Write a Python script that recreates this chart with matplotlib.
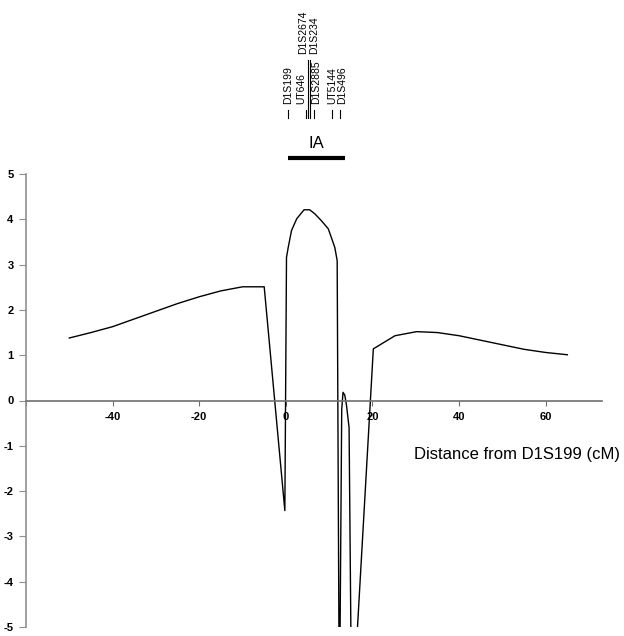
import matplotlib
matplotlib.use("Agg")
import matplotlib.pyplot as plt
import matplotlib.transforms as mtransforms

plt.rcParams['font.family'] = ['Liberation Sans', 'DejaVu Sans']
plt.rcParams['axes.unicode_minus'] = False

# LOD score curve: distance (cM) from D1S199 and score
distance = [-50, -45, -40, -35, -30, -25, -20, -15, -10, -5,
            -0.23, 0.15, 0.55, 1.3, 2.5, 4.2, 5.5, 6.7, 8.2, 9.8, 10.5, 11.3, 11.85,
            12.3, 12.45, 12.9, 13.2, 13.6, 14.0, 14.6, 15.1,
            15.95, 20.2, 25.2, 30.2, 35, 40, 45, 50, 55, 60, 65]
lod = [1.38, 1.50, 1.63, 1.80, 1.97, 2.14, 2.29, 2.42, 2.51, 2.51,
       -2.43, 3.16, 3.38, 3.75, 4.01, 4.21, 4.21, 4.12, 3.97, 3.79, 3.60, 3.38, 3.09,
       -6.0, -6.0, -0.2, 0.18, 0.12, -0.1, -0.6, -6.0,
       -6.0, 1.14, 1.43, 1.52, 1.50, 1.43, 1.33, 1.23, 1.13, 1.06, 1.01]

# Markers (cM positions) shown above the plot
short_markers = ["D1S199", "UT646", "D1S2885", "UT5144", "D1S496"]
short_pos = [0.54, 4.55, 6.54, 10.7, 12.6]
short_label_pos = [0.54, 3.6, 7.1, 10.7, 12.95]
long_markers = ["D1S2674", "D1S234"]
long_pos = [5.0, 5.54]
long_label_pos = [3.9, 6.6]
region_name = "IA"
region_span = [0.5, 13.6]

x_ticks = [-60, -40, -20, 0, 20, 40, 60]
x_ticklabels = ["", "-40", "-20", "0", "20", "40", "60"]
y_ticks = [-5, -4, -3, -2, -1, 0, 1, 2, 3, 4, 5]

W, H = 624, 636
fig = plt.figure(figsize=(W / 100, H / 100), dpi=100)
ax = fig.add_axes([26 / W, 1 - 627 / H, (602 - 26) / W, (627 - 174) / H])

ax.plot(distance, lod, color='black', lw=1.0)
ax.set_xlim(-60, 73)
ax.set_ylim(-5, 5)

for s in ['top', 'right']:
    ax.spines[s].set_visible(False)
ax.spines['bottom'].set_position(('data', 0))
ax.spines['bottom'].set_color('#707070')
ax.spines['left'].set_color('#909090')
ax.spines['bottom'].set_linewidth(1.2)
ax.spines['left'].set_linewidth(1.2)

ax.set_xticks(x_ticks)
ax.set_xticklabels(x_ticklabels, fontsize=8, fontweight='bold')
ax.set_yticks(y_ticks)
ax.set_yticklabels([str(v) for v in y_ticks], fontsize=8, fontweight='bold')
ax.tick_params(axis='x', direction='out', length=3.5, color='#707070', pad=5)
ax.tick_params(axis='y', direction='out', length=5, color='#909090', pad=4)

fig.text(620 / W, 1 - 455 / H, "Distance from D1S199 (cM)", ha='right', va='center', fontsize=12)

trans = mtransforms.blended_transform_factory(ax.transData, fig.transFigure)

def fy(py):
    return 1 - py / H

for name, p, lp in zip(short_markers, short_pos, short_label_pos):
    ax.plot([p, p], [fy(110), fy(118)], transform=trans, color='black', lw=0.8, clip_on=False)
    ax.text(lp, fy(104), name, rotation=90, ha='center', va='bottom', fontsize=7.5,
            transform=trans, clip_on=False)

for name, p, lp in zip(long_markers, long_pos, long_label_pos):
    ax.plot([p, p], [fy(60), fy(118)], transform=trans, color='black', lw=0.8, clip_on=False)
    ax.text(lp, fy(54), name, rotation=90, ha='center', va='bottom', fontsize=7.5,
            transform=trans, clip_on=False)

ax.plot(region_span, [fy(158), fy(158)], transform=trans, color='black', lw=3, clip_on=False,
        solid_capstyle='butt')
ax.text(sum(region_span) / 2, fy(143), region_name, ha='center', va='center', fontsize=12,
        transform=trans, clip_on=False)

fig.savefig("out.png", dpi=100)
